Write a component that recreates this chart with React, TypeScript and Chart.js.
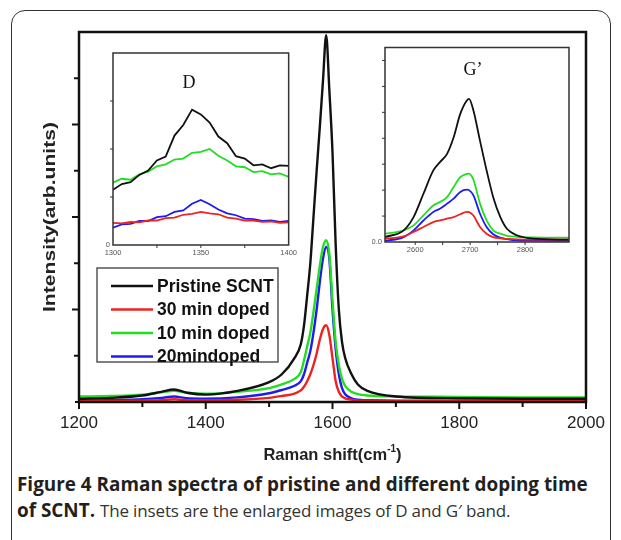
import React, { useEffect, useRef } from 'react';
import { Chart, registerables } from 'chart.js';

Chart.register(...registerables);
Chart.defaults.font.family = "'Liberation Sans', Arial, sans-serif";

// ---------- main spectrum ----------
const X_MAIN = [1200, 1250, 1300, 1330, 1350, 1370, 1400, 1450, 1500, 1520, 1540, 1550, 1555, 1560, 1565, 1570, 1575, 1580, 1585, 1590, 1595, 1600, 1605, 1610, 1615, 1620, 1630, 1640, 1655, 1700, 1800, 1900, 2000];
const PRISTINE = [0.07, 0.09, 0.14, 0.22, 0.27, 0.2, 0.16, 0.24, 0.43, 0.6, 0.95, 1.25, 1.65, 2.3, 3.0, 4.0, 5.0, 5.95, 6.95, 7.93, 6.75, 5.4, 3.4, 2.0, 1.3, 0.95, 0.6, 0.38, 0.24, 0.12, 0.08, 0.07, 0.07];
const DOPED30 = [0.02, 0.02, 0.03, 0.04, 0.06, 0.04, 0.04, 0.05, 0.09, 0.13, 0.18, 0.25, 0.33, 0.45, 0.6, 0.8, 1.05, 1.35, 1.58, 1.66, 1.45, 0.95, 0.45, 0.22, 0.12, 0.08, 0.05, 0.03, 0.03, 0.02, 0.02, 0.02, 0.02];
const DOPED10 = [0.12, 0.13, 0.16, 0.21, 0.24, 0.2, 0.18, 0.22, 0.3, 0.38, 0.5, 0.65, 0.9, 1.2, 1.5, 1.95, 2.45, 2.95, 3.35, 3.5, 3.2, 2.2, 1.3, 0.8, 0.5, 0.35, 0.22, 0.17, 0.14, 0.12, 0.11, 0.1, 0.1];
const DOPED20 = [0.03, 0.04, 0.06, 0.09, 0.12, 0.08, 0.07, 0.1, 0.19, 0.26, 0.35, 0.45, 0.6, 0.85, 1.1, 1.5, 2.0, 2.6, 3.1, 3.35, 3.1, 2.0, 1.15, 0.6, 0.3, 0.17, 0.08, 0.05, 0.04, 0.03, 0.03, 0.03, 0.03];

// ---------- D band inset ----------
const X_D = [1300, 1305, 1310, 1315, 1320, 1325, 1330, 1335, 1340, 1345, 1350, 1355, 1360, 1365, 1370, 1375, 1380, 1385, 1390, 1395, 1400];
const D_PRISTINE = [1.15, 1.27, 1.31, 1.46, 1.55, 1.76, 1.84, 2.28, 2.5, 2.82, 2.72, 2.55, 2.26, 2.12, 1.85, 1.8, 1.66, 1.68, 1.6, 1.66, 1.65];
const D_DOPED30 = [0.46, 0.45, 0.48, 0.47, 0.51, 0.51, 0.56, 0.57, 0.63, 0.65, 0.69, 0.66, 0.64, 0.57, 0.55, 0.51, 0.51, 0.48, 0.49, 0.46, 0.47];
const D_DOPED10 = [1.3, 1.38, 1.36, 1.47, 1.53, 1.64, 1.68, 1.78, 1.8, 1.92, 1.94, 2.0, 1.86, 1.76, 1.64, 1.62, 1.52, 1.54, 1.47, 1.49, 1.42];
const D_DOPED20 = [0.36, 0.43, 0.44, 0.5, 0.5, 0.58, 0.6, 0.69, 0.72, 0.86, 0.94, 0.85, 0.74, 0.66, 0.62, 0.55, 0.54, 0.5, 0.51, 0.48, 0.5];

// ---------- G' band inset ----------
const X_G = [2545, 2579, 2597, 2615, 2633, 2645, 2658, 2670, 2682, 2694, 2698, 2706, 2718, 2730, 2742, 2755, 2767, 2785, 2815, 2880];
const G_PRISTINE = [0.19, 0.45, 0.96, 1.86, 2.76, 3.08, 3.4, 4.04, 4.94, 5.46, 5.52, 5.07, 3.9, 2.76, 1.73, 0.96, 0.51, 0.26, 0.13, 0.09];
const G_DOPED30 = [0.13, 0.22, 0.39, 0.58, 0.77, 0.83, 0.9, 0.96, 1.07, 1.16, 1.15, 1.02, 0.58, 0.32, 0.19, 0.14, 0.12, 0.1, 0.09, 0.09];
const G_DOPED10 = [0.32, 0.45, 0.64, 1.03, 1.41, 1.54, 1.73, 2.12, 2.5, 2.63, 2.64, 2.4, 1.48, 0.83, 0.45, 0.32, 0.24, 0.2, 0.18, 0.17];
const G_DOPED20 = [0.04, 0.19, 0.45, 0.83, 1.16, 1.28, 1.48, 1.67, 1.93, 2.02, 2.0, 1.8, 1.09, 0.58, 0.3, 0.17, 0.11, 0.06, 0.05, 0.04];

// ---------- labels / ticks ----------
const SERIES_LABELS = ['Pristine SCNT', '30 min doped', '10 min doped', '20mindoped'];
const SERIES_COLORS = ['#111111', '#ee2222', '#22dd22', '#1c1cee'];
const X_MAJOR = [1200, 1400, 1600, 1800, 2000];
const X_MINOR = [1300, 1500, 1700, 1900];
const Y_TICKS = [1, 2, 3, 4, 5, 6, 7];
const D_X_LABELS = [1300, 1350, 1400];
const D_X_TICKS = [1325, 1350, 1375];
const D_Y_TICKS = [1, 2, 3];
const G_X_LABELS = [2600, 2700, 2800];
const G_X_TICKS = [2600, 2650, 2700, 2750, 2800];
const G_Y_TICKS = [1, 2, 3, 4, 5, 6, 7];

const pts = (xs: number[], ys: number[]) => xs.map((x, i) => ({ x, y: ys[i] }));

function makeDatasets(xs: number[], series: number[][], width: number, smooth: boolean) {
  return series.map((ys, i) => ({
    label: SERIES_LABELS[i],
    data: pts(xs, ys),
    borderColor: SERIES_COLORS[i],
    backgroundColor: SERIES_COLORS[i],
    borderWidth: width,
    pointRadius: 0,
    fill: false,
    cubicInterpolationMode: smooth ? 'monotone' : 'default',
    tension: 0,
  }));
}

function line(ctx: CanvasRenderingContext2D, x1: number, y1: number, x2: number, y2: number) {
  ctx.beginPath();
  ctx.moveTo(x1, y1);
  ctx.lineTo(x2, y2);
  ctx.stroke();
}

const mainDecor = {
  id: 'mainDecor',
  afterDraw(chart: any) {
    const { ctx, chartArea: a, scales } = chart;
    const xs = scales.x, ys = scales.y;
    ctx.save();
    ctx.strokeStyle = '#111';
    ctx.lineWidth = 2.5;
    ctx.strokeRect(a.left, a.top, a.right - a.left, a.bottom - a.top);
    ctx.lineWidth = 2;
    X_MAJOR.forEach((v) => { const p = xs.getPixelForValue(v); line(ctx, p, a.bottom, p, a.bottom + 7); });
    X_MINOR.forEach((v) => { const p = xs.getPixelForValue(v); line(ctx, p, a.bottom, p, a.bottom + 5); });
    Y_TICKS.forEach((v) => { const p = ys.getPixelForValue(v); line(ctx, a.left - (v % 2 === 0 ? 7 : 5), p, a.left, p); });
    line(ctx, a.left - 4, a.bottom, a.left, a.bottom);

    // x title
    ctx.fillStyle = '#222';
    ctx.textBaseline = 'middle';
    const big = "bold 16.5px 'Liberation Sans', Arial, sans-serif";
    const sup = "bold 10px 'Liberation Sans', Arial, sans-serif";
    const t1 = 'Raman shift(cm', t2 = '-1', t3 = ')';
    ctx.font = big; const w1 = ctx.measureText(t1).width; const w3 = ctx.measureText(t3).width;
    ctx.font = sup; const w2 = ctx.measureText(t2).width;
    const cx = (a.left + a.right) / 2;
    const x0 = cx - (w1 + w2 + w3) / 2;
    const ty = 455;
    ctx.textAlign = 'left';
    ctx.font = big; ctx.fillText(t1, x0, ty);
    ctx.font = sup; ctx.fillText(t2, x0 + w1, ty - 6);
    ctx.font = big; ctx.fillText(t3, x0 + w1 + w2, ty);

    // y title
    ctx.save();
    ctx.translate(50, 217);
    ctx.rotate(-Math.PI / 2);
    ctx.font = "bold 17px 'Liberation Sans', Arial, sans-serif";
    const yt = 'Intensity(arb.units)';
    const yw = ctx.measureText(yt).width;
    ctx.scale(190 / yw, 1);
    ctx.textAlign = 'center';
    ctx.fillText(yt, 0, 0);
    ctx.restore();

    // legend
    const lx = 97, ly = 268, lw = 181, lh = 94;
    ctx.fillStyle = '#fff';
    ctx.fillRect(lx, ly, lw, lh);
    ctx.strokeStyle = '#555';
    ctx.lineWidth = 1.5;
    ctx.strokeRect(lx, ly, lw, lh);
    ctx.font = "bold 17.5px 'Liberation Sans', Arial, sans-serif";
    ctx.textAlign = 'left';
    ctx.textBaseline = 'middle';
    SERIES_LABELS.forEach((lab, i) => {
      const y = 286 + i * 23.5;
      ctx.strokeStyle = SERIES_COLORS[i];
      ctx.lineWidth = 2.5;
      line(ctx, 111, y, 153, y);
      ctx.fillStyle = '#111';
      ctx.fillText(lab, 157, y + 1);
    });
    ctx.restore();
  },
};

function insetDecor(id: string, xTicks: number[], yTicks: number[], label: string, lpos: [number, number]) {
  return {
    id,
    beforeDatasetsDraw(chart: any) {
      const { ctx, chartArea: a } = chart;
      ctx.save();
      ctx.fillStyle = '#fff';
      ctx.fillRect(a.left, a.top, a.right - a.left, a.bottom - a.top);
      ctx.restore();
    },
    afterDraw(chart: any) {
      const { ctx, chartArea: a, scales } = chart;
      ctx.save();
      ctx.strokeStyle = '#333';
      ctx.lineWidth = 1.5;
      ctx.strokeRect(a.left, a.top, a.right - a.left, a.bottom - a.top);
      ctx.lineWidth = 1;
      xTicks.forEach((v) => { const p = scales.x.getPixelForValue(v); line(ctx, p, a.bottom, p, a.bottom + 3); });
      yTicks.forEach((v) => { const p = scales.y.getPixelForValue(v); line(ctx, a.left - 3, p, a.left, p); });
      ctx.fillStyle = '#111';
      ctx.font = "18px 'Liberation Serif', 'Times New Roman', serif";
      ctx.textAlign = 'center';
      ctx.textBaseline = 'middle';
      ctx.fillText(label, lpos[0], lpos[1]);
      ctx.restore();
    },
  };
}

const insetTickFont = { size: 7.5 };

function insetOptions(xmin: number, xmax: number, ymax: number, xLabels: number[], zeroLabel: string, pad: any, yWidth: number, xHeight: number) {
  return {
    responsive: false,
    animation: false,
    layout: { padding: pad },
    plugins: { legend: { display: false }, tooltip: { enabled: false } },
    scales: {
      x: {
        type: 'linear',
        min: xmin,
        max: xmax,
        grid: { display: false, drawTicks: false },
        border: { display: false },
        afterBuildTicks: (s: any) => { s.ticks = xLabels.map((v) => ({ value: v })); },
        ticks: { font: insetTickFont, color: '#555', padding: 3, maxRotation: 0, autoSkip: false, callback: (v: any) => String(v) },
        afterFit: (s: any) => { s.height = xHeight; },
      },
      y: {
        min: 0,
        max: ymax,
        grid: { display: false, drawTicks: false },
        border: { display: false },
        afterBuildTicks: (s: any) => { s.ticks = [{ value: 0 }]; },
        ticks: { font: insetTickFont, color: '#555', padding: 3, callback: () => zeroLabel },
        afterFit: (s: any) => { s.width = yWidth; },
      },
    },
  };
}

export default function App() {
  const mainRef = useRef<HTMLCanvasElement>(null);
  const dRef = useRef<HTMLCanvasElement>(null);
  const gRef = useRef<HTMLCanvasElement>(null);

  useEffect(() => {
    const main = new Chart(mainRef.current as HTMLCanvasElement, {
      type: 'line',
      data: { datasets: makeDatasets(X_MAIN, [PRISTINE, DOPED30, DOPED10, DOPED20], 2.4, true) as any },
      options: {
        responsive: false,
        animation: false,
        layout: { padding: { top: 32, right: 35, left: 0, bottom: 0 } },
        plugins: { legend: { display: false }, tooltip: { enabled: false } },
        scales: {
          x: {
            type: 'linear',
            min: 1200,
            max: 2000,
            grid: { display: false, drawTicks: false },
            border: { display: false },
            afterBuildTicks: (s: any) => { s.ticks = X_MAJOR.map((v) => ({ value: v })); },
            ticks: { font: { size: 17 }, color: '#222', padding: 11, maxRotation: 0, autoSkip: false, callback: (v: any) => String(v) },
            afterFit: (s: any) => { s.height = 68; },
          },
          y: {
            min: 0,
            max: 8,
            grid: { display: false, drawTicks: false },
            border: { display: false },
            ticks: { display: false },
            afterFit: (s: any) => { s.width = 79; },
          },
        },
      } as any,
      plugins: [mainDecor],
    });

    const d = new Chart(dRef.current as HTMLCanvasElement, {
      type: 'line',
      data: { datasets: makeDatasets(X_D, [D_PRISTINE, D_DOPED30, D_DOPED10, D_DOPED20], 1.8, false) as any },
      options: insetOptions(1300, 1400, 4, D_X_LABELS, '0', { top: 8, right: 6, left: 0, bottom: 0 }, 13, 15) as any,
      plugins: [insetDecor('dDecor', D_X_TICKS, D_Y_TICKS, 'D', [89, 38])],
    });

    const g = new Chart(gRef.current as HTMLCanvasElement, {
      type: 'line',
      data: { datasets: makeDatasets(X_G, [G_PRISTINE, G_DOPED30, G_DOPED10, G_DOPED20], 1.8, true) as any },
      options: insetOptions(2545, 2880, 7.5, G_X_LABELS, '0.0', { top: 7, right: 8, left: 0, bottom: 0 }, 13, 13) as any,
      plugins: [insetDecor('gDecor', G_X_TICKS, G_Y_TICKS, 'G\u2019', [101, 30])],
    });

    return () => { main.destroy(); d.destroy(); g.destroy(); };
  }, []);

  return (
    <div style={{ position: 'absolute', left: 0, top: 0, width: 621, height: 540, background: '#fff', overflow: 'hidden' }}>
      <div style={{ position: 'absolute', left: 11, top: 10, width: 600, height: 580, border: '1.5px solid #333', borderRadius: 14, boxSizing: 'border-box' }} />
      <canvas ref={mainRef} width={621} height={470} style={{ position: 'absolute', left: 0, top: 0, width: 621, height: 470 }} />
      <canvas ref={dRef} width={200} height={215} style={{ position: 'absolute', left: 100, top: 45, width: 200, height: 215 }} />
      <canvas ref={gRef} width={205} height={215} style={{ position: 'absolute', left: 372, top: 40, width: 205, height: 215 }} />
      <div style={{ position: 'absolute', left: 17, top: 471, fontFamily: "'Open Sans', sans-serif", fontSize: 18.9, lineHeight: '26px', color: '#231f20', whiteSpace: 'nowrap' }}>
        <div style={{ fontWeight: 700 }}>Figure 4 Raman spectra of pristine and different doping time</div>
        <div><span style={{ fontWeight: 700 }}>of SCNT.</span> <span style={{ color: '#333', fontSize: 17, letterSpacing: '-0.15px' }}>The insets are the enlarged images of D and G′ band.</span></div>
      </div>
    </div>
  );
}
